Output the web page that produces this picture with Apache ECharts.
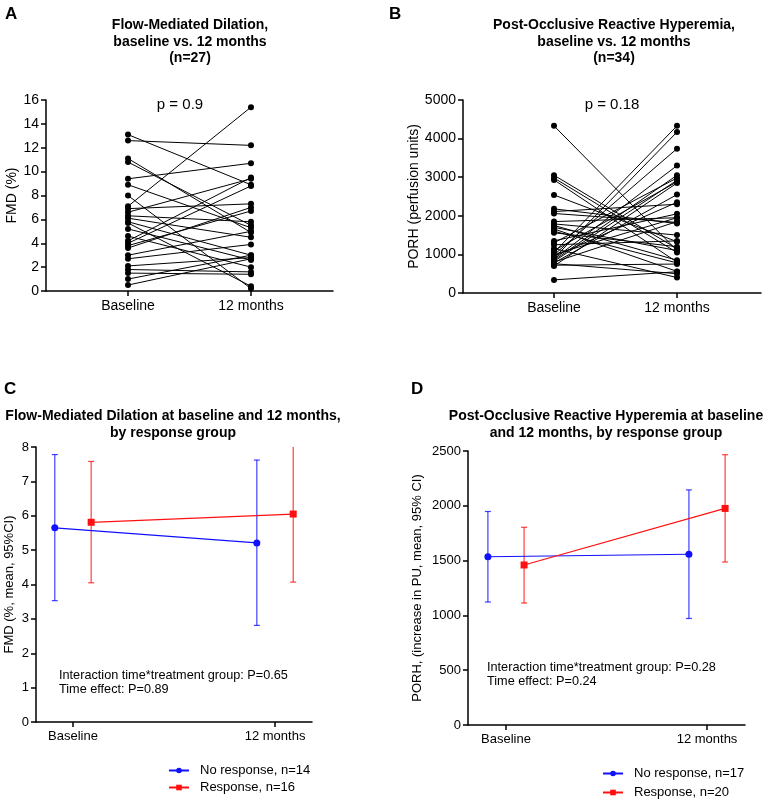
<!DOCTYPE html>
<html lang="en" style="height: 100%">
<head>
  <meta charset="utf-8" />
</head>
<body style="height: 100%; margin: 0; background: #fff">
  <div id="container" style="width: 768px; height: 801px"></div>
  <script src="https://cdn.jsdelivr.net/npm/echarts@6/dist/echarts.min.js"></script>
  <script>
    // ---- data ----
    var timeLabels = ["Baseline", "12 months"];

    // panel A: FMD (%) paired, n=27
    var fmdBase = [13.1, 12.6, 11.1, 10.8, 9.4, 8.9, 8.0, 7.1, 6.9, 6.6, 6.3, 6.1, 5.8, 5.7, 5.2, 4.6, 4.2, 4.0, 3.8, 3.6, 3.0, 2.7, 2.1, 1.8, 1.5, 1.0, 0.5];
    var fmdM12 = [8.9, 12.2, 4.9, 5.5, 10.7, 5.3, 0.2, 15.4, 7.3, 9.4, 5.8, 4.5, 3.0, 0.4, 2.6, 2.0, 9.5, 8.8, 6.7, 7.0, 5.0, 3.9, 2.8, 1.6, 1.4, 3.0, 2.7];

    // panel B: PORH (perfusion units) paired, n=34
    var porhBase = [4330, 3050, 2980, 2930, 2540, 2180, 2110, 2060, 1850, 1790, 1750, 1700, 1660, 1600, 1560, 1350, 1300, 1250, 1100, 1050, 990, 950, 900, 880, 850, 820, 800, 780, 760, 720, 700, 1000, 1150, 340];
    var porhM12 = [1100, 1150, 1050, 800, 1330, 1800, 2300, 1830, 1950, 1500, 850, 1100, 560, 780, 1200, 2050, 2980, 1350, 2880, 4330, 3740, 2350, 4170, 3300, 3050, 2920, 1850, 2550, 500, 750, 2850, 1950, 400, 550];

    // panel C: FMD mean and 95% CI by group
    var fmdNoMean = [5.65, 5.21];
    var fmdNoLow = [3.53, 2.81];
    var fmdNoHigh = [7.78, 7.62];
    var fmdRespMean = [5.81, 6.05];
    var fmdRespLow = [4.05, 4.07];
    var fmdRespHigh = [7.58, 8.4];

    // panel D: PORH mean and 95% CI by group
    var porhNoMean = [1535, 1558];
    var porhNoLow = [1122, 972];
    var porhNoHigh = [1948, 2145];
    var porhRespMean = [1460, 1976];
    var porhRespLow = [1113, 1487];
    var porhRespHigh = [1804, 2466];

    var FONT = "'Liberation Sans', Arial, sans-serif";
    var BLUE = "#1010ff";
    var RED = "#ff1010";
    var SHIFT = 0.09;

    function xAx(gi, min, max, fs) {
      return {
        type: "value", gridIndex: gi, min: min, max: max,
        splitLine: { show: false },
        axisLine: { onZero: false, lineStyle: { color: "#000", width: 1.5 } },
        axisTick: { customValues: [0, 1], length: 5, lineStyle: { color: "#000", width: 1.5 } },
        axisLabel: {
          customValues: [0, 1], color: "#000", fontSize: fs, fontFamily: FONT, margin: 8,
          formatter: function (v) { return timeLabels[Math.round(v)]; }
        }
      };
    }

    function yAx(gi, max, interval, name, gap, fs, nfs) {
      return {
        type: "value", gridIndex: gi, min: 0, max: max, interval: interval,
        name: name, nameLocation: "middle", nameGap: gap,
        nameTextStyle: { color: "#000", fontSize: nfs, fontFamily: FONT },
        splitLine: { show: false },
        axisLine: { show: true, onZero: false, lineStyle: { color: "#000", width: 1.5 } },
        axisTick: { show: true, length: 5, lineStyle: { color: "#000", width: 1.5 } },
        axisLabel: {
          color: "#000", fontSize: fs, fontFamily: FONT, margin: 7,
          formatter: function (v) { return String(v); }
        }
      };
    }

    function pairSeries(gi, base, m12) {
      return base.map(function (b, i) {
        return {
          type: "line", xAxisIndex: gi, yAxisIndex: gi, silent: true,
          data: [[0, b], [1, m12[i]]],
          symbol: "circle", symbolSize: 6,
          itemStyle: { color: "#000" },
          lineStyle: { color: "#000", width: 1 }
        };
      });
    }

    function meanSeries(gi, name, mean, color, symbol, shift) {
      return {
        type: "line", name: name, xAxisIndex: gi, yAxisIndex: gi,
        data: mean.map(function (m, i) { return [i + shift, m]; }),
        symbol: symbol, symbolSize: 7, z: 5,
        itemStyle: { color: color },
        lineStyle: { color: color, width: 1.2 }
      };
    }

    function errSeries(gi, low, high, color, shift) {
      return {
        type: "custom", xAxisIndex: gi, yAxisIndex: gi, silent: true, clip: true,
        data: low.map(function (l, i) { return [i + shift, l, high[i]]; }),
        encode: { x: 0, y: [1, 2] },
        renderItem: function (params, api) {
          var lo = api.coord([api.value(0), api.value(1)]);
          var hi = api.coord([api.value(0), api.value(2)]);
          var st = { stroke: color, lineWidth: 1.2, opacity: 0.8 };
          return {
            type: "group",
            children: [
              { type: "line", shape: { x1: lo[0], y1: lo[1], x2: hi[0], y2: hi[1] }, style: st },
              { type: "line", shape: { x1: lo[0] - 3, y1: lo[1], x2: lo[0] + 3, y2: lo[1] }, style: st },
              { type: "line", shape: { x1: hi[0] - 3, y1: hi[1], x2: hi[0] + 3, y2: hi[1] }, style: st }
            ]
          };
        }
      };
    }

    function txt(x, y, text, fs, bold, align, lh) {
      return {
        type: "text", x: x, y: y,
        style: {
          text: text, fill: "#000", fontSize: fs, fontFamily: FONT,
          fontWeight: bold ? "bold" : "normal", textAlign: align || "left",
          textVerticalAlign: "top", lineHeight: lh || fs + 3
        }
      };
    }

    var chart = echarts.init(document.getElementById("container"), null, { renderer: "canvas" });

    var series = []
      .concat(pairSeries(0, fmdBase, fmdM12))
      .concat(pairSeries(1, porhBase, porhM12))
      .concat([
        errSeries(2, fmdNoLow, fmdNoHigh, BLUE, -SHIFT),
        errSeries(2, fmdRespLow, fmdRespHigh, RED, SHIFT),
        meanSeries(2, "No response, n=14", fmdNoMean, BLUE, "circle", -SHIFT),
        meanSeries(2, "Response, n=16", fmdRespMean, RED, "rect", SHIFT),
        errSeries(3, porhNoLow, porhNoHigh, BLUE, -SHIFT),
        errSeries(3, porhRespLow, porhRespHigh, RED, SHIFT),
        meanSeries(3, "No response, n=17", porhNoMean, BLUE, "circle", -SHIFT),
        meanSeries(3, "Response, n=20", porhRespMean, RED, "rect", SHIFT)
      ]);

    var legendText = { color: "#000", fontSize: 13, fontFamily: FONT, padding: [0, 0, 0, 6] };

    var option = {
      animation: false,
      backgroundColor: "#fff",
      grid: [
        { left: 46, width: 287, top: 100, height: 191 },
        { left: 463, width: 298, top: 100, height: 193 },
        { left: 36, width: 276, top: 447, height: 275 },
        { left: 468, width: 277, top: 451, height: 274 }
      ],
      xAxis: [
        xAx(0, -0.667, 1.667, 14),
        xAx(1, -0.74, 1.683, 14),
        xAx(2, -0.183, 1.183, 13),
        xAx(3, -0.189, 1.189, 13)
      ],
      yAxis: [
        yAx(0, 16, 2, "FMD (%)", 24, 14, 14),
        yAx(1, 5000, 1000, "PORH (perfusion units)", 38, 14, 14),
        yAx(2, 8, 1, "FMD (%, mean, 95%CI)", 20, 13, 13),
        yAx(3, 2500, 500, "PORH, (increase in PU, mean, 95% CI)", 44, 13, 13)
      ],
      legend: [
        {
          data: ["No response, n=14", "Response, n=16"],
          orient: "vertical", left: 168, top: 764, padding: 0, itemWidth: 20, itemHeight: 7, itemGap: 4,
          textStyle: legendText
        },
        {
          data: ["No response, n=17", "Response, n=20"],
          orient: "vertical", left: 602, top: 767, padding: 0, itemWidth: 20, itemHeight: 7, itemGap: 6,
          textStyle: legendText
        }
      ],
      graphic: [
        txt(5, 4, "A", 17, true),
        txt(190, 17, "Flow-Mediated Dilation,\nbaseline vs. 12 months\n(n=27)", 14, true, "center", 16.5),
        txt(180, 96, "p = 0.9", 15, false, "center"),
        txt(389, 4, "B", 17, true),
        txt(614, 17, "Post-Occlusive Reactive Hyperemia,\nbaseline vs. 12 months\n(n=34)", 14, true, "center", 16.5),
        txt(612, 96, "p = 0.18", 15, false, "center"),
        txt(4, 379, "C", 17, true),
        txt(173, 408, "Flow-Mediated Dilation at baseline and 12 months,\nby response group", 14, true, "center", 16.5),
        txt(59, 668, "Interaction time*treatment group: P=0.65\nTime effect: P=0.89", 12.7, false, "left", 14.5),
        txt(411, 379, "D", 17, true),
        txt(606, 408, "Post-Occlusive Reactive Hyperemia at baseline\nand 12 months, by response group", 14, true, "center", 16.5),
        txt(487, 660, "Interaction time*treatment group: P=0.28\nTime effect: P=0.24", 12.7, false, "left", 14.5)
      ],
      series: series
    };

    chart.setOption(option);
  </script>
</body>
</html>
